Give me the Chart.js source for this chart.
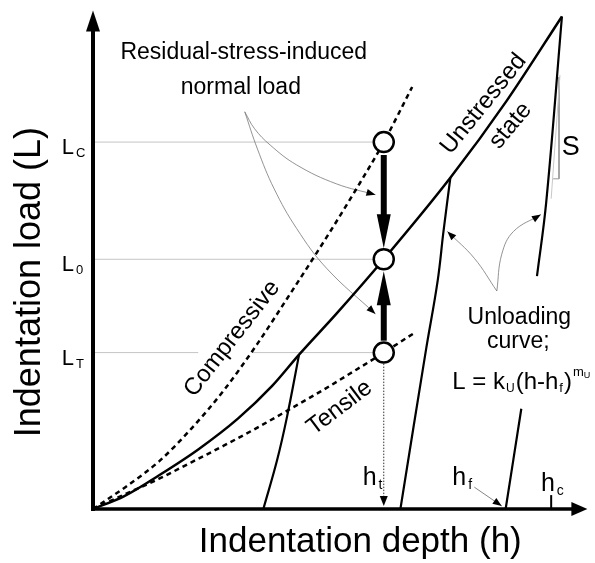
<!DOCTYPE html>
<html>
<head>
<meta charset="utf-8">
<script src="https://cdn.jsdelivr.net/npm/chart.js@4.4.1/dist/chart.umd.min.js"></script>
<style>
  html, body { margin: 0; padding: 0; background: #fff; }
  #wrap { width: 595px; height: 563px; }
</style>
</head>
<body>
<div id="wrap"><canvas id="indent-chart" width="595" height="563"></canvas></div>
<script>
// depth h and load L, arbitrary units (0..100 on both axes)
const loadingH = [0, 6.4, 13.5, 21.5, 29.6, 36.6, 42.1, 49.7, 59.4, 73.0, 84.5, 95.8];
const loadingL = [0, 2.6, 6.8, 12.0, 18.2, 24.8, 31.1, 39.3, 50.3, 66.7, 82.2, 99.2];

const compressiveH = [0, 6.6, 13.5, 20.1, 26.8, 33.6, 39.6, 47.7, 53.7, 59.4, 65.2];
const compressiveL = [0, 4.4, 9.6, 16.2, 24.0, 33.3, 42.3, 54.7, 64.3, 73.9, 85.0];

const tensileH = [0, 6.6, 13.5, 20.1, 26.8, 33.6, 40.2, 46.9, 53.7, 59.4, 65.4];
const tensileL = [0, 3.0, 6.1, 9.4, 12.8, 16.4, 20.1, 23.9, 28.0, 31.5, 35.3];

// unloading branches (third one is broken where the label sits)
const unload1H = [42.1, 39.6, 37.6, 34.8];
const unload1L = [31.1, 18.4, 9.8, 0];
const unload2H = [73.0, 71.6, 70.4, 68.0, 62.8];
const unload2L = [66.7, 55.9, 45.9, 31.9, 0];
const unload3H = [95.8, 92.6, 90.7, null, 87.5, 84.3];
const unload3L = [99.2, 61.9, 46.9, null, 20.2, 0];

// load levels marked on the vertical axis
const levelKeys = ['C', '0', 'T'];
const levelL = [73.9, 50.3, 31.5];
const levelH = 59.4;        // depth h_t where the three states are compared
const levelLineEnd = 57.2;
const levelGapT = [21.5, 32.6];

// thick arrows: residual stress shifts the load
const shiftFromL = [71.3, 33.9];
const shiftToL = [52.5, 47.9];

// depth marks on the horizontal axis
const depthKeys = ['t', 'f', 'c'];
const depthLabelH = [55.1, 73.4, 91.5];
const depthLabelL = [4.8, 4.8, 3.6];
const hfArrowH = [77.9, 83.5];
const hfArrowL = [4.4, 0.6];
const hcTickH = 93.6;
const hcTickL = [0, 2.8];

// stiffness S: tangent and bracket at the peak
const tangentH = [95.4, 93.6];
const tangentL = [87.4, 62.5];
const bracketH = [95.2, 95.2, 94.0];
const bracketL = [87.0, 66.5, 66.5];

// thin grey pointer curves
const noteAH = [31.0, 33.0, 36.2, 41.6, 49.7, 57.7];
const noteAL = [80.0, 76.6, 73.3, 69.3, 65.5, 63.3];
const noteBH = [31.0, 33.6, 37.0, 41.6, 47.7, 57.7];
const noteBL = [80.0, 72.5, 64.5, 56.5, 48.5, 39.3];
const noteCH = [82.5, 77.9, 72.4];
const noteCL = [43.9, 50.5, 55.9];
const noteDH = [82.5, 83.5, 85.9, 91.5];
const noteDL = [43.9, 51.3, 55.9, 59.3];

const FONT = '"Liberation Sans", Arial, sans-serif';

function pts(H, L) {
    return H.map((h, i) => h === null ? { x: null, y: null } : { x: h, y: L[i] });
}

function line(H, L, extra) {
    return Object.assign({
        data: pts(H, L),
        borderColor: '#000',
        borderWidth: 2.5,
        pointRadius: 0,
        fill: false,
        spanGaps: false,
        tension: 0,
        order: 5
    }, extra);
}

const datasets = [
    // circles on top
    {
        data: levelL.map(l => ({ x: levelH, y: l })),
        showLine: false,
        pointRadius: 10,
        pointBackgroundColor: '#fff',
        pointBorderColor: '#000',
        pointBorderWidth: 2.5,
        order: 0
    },
    line(loadingH, loadingL, { cubicInterpolationMode: 'monotone' }),
    line(compressiveH, compressiveL, { cubicInterpolationMode: 'monotone', borderDash: [5, 4] }),
    line(tensileH, tensileL, { cubicInterpolationMode: 'monotone', borderDash: [5, 4] }),
    line(unload1H, unload1L, { tension: 0.4, borderWidth: 2.2 }),
    line(unload2H, unload2L, { tension: 0.4, borderWidth: 2.2 }),
    line(unload3H, unload3L, { tension: 0.4, borderWidth: 2.2 }),
    line(tangentH, tangentL, { borderColor: '#c8c8c8', borderWidth: 1, order: 15 }),
    line(bracketH, bracketL, { borderColor: '#999', borderWidth: 1, order: 15 }),
    line(noteAH, noteAL, { borderColor: '#777', borderWidth: 0.8, tension: 0.4, head: true, order: 12 }),
    line(noteBH, noteBL, { borderColor: '#777', borderWidth: 0.8, tension: 0.4, head: true, order: 12 }),
    line(noteCH, noteCL, { borderColor: '#777', borderWidth: 0.8, tension: 0.4, head: true, order: 12 }),
    line(noteDH, noteDL, { borderColor: '#777', borderWidth: 0.8, tension: 0.4, head: true, order: 12 })
];

// reference lines from the load axis to the circles
levelL.forEach((l, i) => {
    const H = levelKeys[i] === 'T'
        ? [0, levelGapT[0], null, levelGapT[1], levelLineEnd]
        : [0, levelLineEnd];
    const L = H.map(h => h === null ? null : l);
    datasets.push(line(H, L, { borderColor: '#c4c4c4', borderWidth: 1, order: 20 }));
});

function head(ctx, x1, y1, x2, y2, len, half, color) {
    const a = Math.atan2(y2 - y1, x2 - x1);
    ctx.save();
    ctx.translate(x2, y2);
    ctx.rotate(a);
    ctx.beginPath();
    ctx.moveTo(0, 0);
    ctx.lineTo(-len, -half);
    ctx.lineTo(-len, half);
    ctx.closePath();
    ctx.fillStyle = color;
    ctx.fill();
    ctx.restore();
}

function seg(ctx, x1, y1, x2, y2, width, color, dash) {
    ctx.save();
    ctx.beginPath();
    ctx.setLineDash(dash || []);
    ctx.moveTo(x1, y1);
    ctx.lineTo(x2, y2);
    ctx.lineWidth = width;
    ctx.strokeStyle = color;
    ctx.stroke();
    ctx.restore();
}

const annotate = {
    id: 'annotate',
    afterDatasetsDraw(chart) {
        const { ctx, scales: { x, y } } = chart;
        const px = h => x.getPixelForValue(h);
        const py = l => y.getPixelForValue(l);

        function text(s, h, l, size, align, rot, base) {
            ctx.save();
            ctx.font = size + 'px ' + FONT;
            ctx.fillStyle = '#000';
            ctx.textAlign = align || 'left';
            ctx.textBaseline = base || 'alphabetic';
            ctx.translate(px(h), py(l));
            if (rot) ctx.rotate(rot * Math.PI / 180);
            ctx.fillText(s, 0, 0);
            ctx.restore();
        }
        // text runs with sub/superscripts, starting at pixel position
        function run(parts, x0, y0) {
            let cx = x0;
            parts.forEach(p => {
                ctx.save();
                ctx.font = p.size + 'px ' + FONT;
                ctx.fillStyle = '#000';
                ctx.textBaseline = 'alphabetic';
                ctx.fillText(p.t, cx + (p.dx || 0), y0 + (p.dy || 0));
                cx += ctx.measureText(p.t).width + (p.dx || 0);
                ctx.restore();
            });
        }

        // arrowheads on the grey pointer curves
        chart.data.datasets.forEach((ds, i) => {
            if (!ds.head) return;
            const pts = chart.getDatasetMeta(i).data;
            const a = pts[pts.length - 2], b = pts[pts.length - 1];
            head(ctx, a.x, a.y, b.x, b.y, 9, 3.5, '#000');
        });

        // axes
        const ox = px(0), oy = py(0);
        seg(ctx, ox, oy + 2, ox, py(100.4) + 18, 4, '#000');
        head(ctx, ox, oy, ox, py(100.4), 21, 7, '#000');
        seg(ctx, ox - 2, oy, px(101) - 14, oy, 3.5, '#000');
        head(ctx, ox, oy, px(101), oy, 16, 7, '#000');

        // residual-stress shift arrows
        shiftFromL.forEach((l0, i) => {
            const x0 = px(levelH), y0 = py(l0), y1 = py(shiftToL[i]);
            const dir = Math.sign(y1 - y0);
            seg(ctx, x0, y0, x0, y1 - dir * 30, 6, '#000');
            head(ctx, x0, y0, x0, y1, 34, 7, '#000');
        });

        // h_t dotted drop line
        seg(ctx, px(levelH), py(levelL[2]) + 11, px(levelH), oy - 10, 1, '#333', [1.5, 1.5]);
        head(ctx, px(levelH), oy - 40, px(levelH), oy - 3, 10, 4, '#000');

        // h_f pointer and h_c tick
        seg(ctx, px(hfArrowH[0]), py(hfArrowL[0]), px(hfArrowH[1]), py(hfArrowL[1]), 0.8, '#666');
        head(ctx, px(hfArrowH[0]), py(hfArrowL[0]), px(hfArrowH[1]), py(hfArrowL[1]), 9, 3.5, '#000');
        seg(ctx, px(hcTickH), py(hcTickL[0]), px(hcTickH), py(hcTickL[1]), 2, '#000');

        // load level labels
        levelL.forEach((l, i) => {
            run([{ t: 'L', size: 22 }, { t: levelKeys[i], size: 13, dx: 2, dy: 3 }], px(-6.4), py(l) + 12);
        });
        // depth labels
        depthKeys.forEach((k, i) => {
            run([{ t: 'h', size: 25 }, { t: k, size: 14, dx: 2, dy: 4 }], px(depthLabelH[i]), py(depthLabelL[i]));
        });

        // axis titles
        text('Indentation depth (h)', 54.6, -8.6, 35, 'center');
        text('Indentation load (L)', -10.9, 45.7, 36, 'center', -90);

        // notes
        text('Residual-stress-induced', 30.8, 90.6, 23, 'center');
        text('normal load', 30.2, 83.6, 23, 'center');
        text('Unstressed', 79.8, 81.6, 24, 'center', -51, 'middle');
        text('state', 85.3, 77.2, 24, 'center', -50, 'middle');
        text('Compressive', 28.4, 34.3, 24, 'center', -52, 'middle');
        text('Tensile', 50.4, 20.4, 24, 'center', -37, 'middle');
        text('S', 97.6, 71.3, 27, 'center');
        text('Unloading', 87.1, 37.3, 23, 'center');
        text('curve;', 86.9, 32.5, 23, 'center');
        run([
            { t: 'L = k', size: 24 },
            { t: 'U', size: 12, dx: 1, dy: 3 },
            { t: '(h-h', size: 24, dx: 1 },
            { t: 'f', size: 13, dx: 1, dy: 3 },
            { t: ')', size: 24, dx: 1 },
            { t: 'm', size: 13, dx: 1, dy: -13 },
            { t: 'U', size: 9, dx: 0, dy: -11 }
        ], px(73.4), py(24.2));
    }
};

new Chart(document.getElementById('indent-chart'), {
    type: 'line',
    data: { datasets },
    options: {
        responsive: false,
        devicePixelRatio: 1,
        animation: false,
        events: [],
        layout: { padding: { left: 93, right: 5, top: 10, bottom: 54 } },
        scales: {
            x: { type: 'linear', min: 0, max: 100, display: false },
            y: { type: 'linear', min: 0, max: 100, display: false }
        },
        plugins: {
            legend: { display: false },
            tooltip: { enabled: false }
        }
    },
    plugins: [annotate]
});
</script>
</body>
</html>
